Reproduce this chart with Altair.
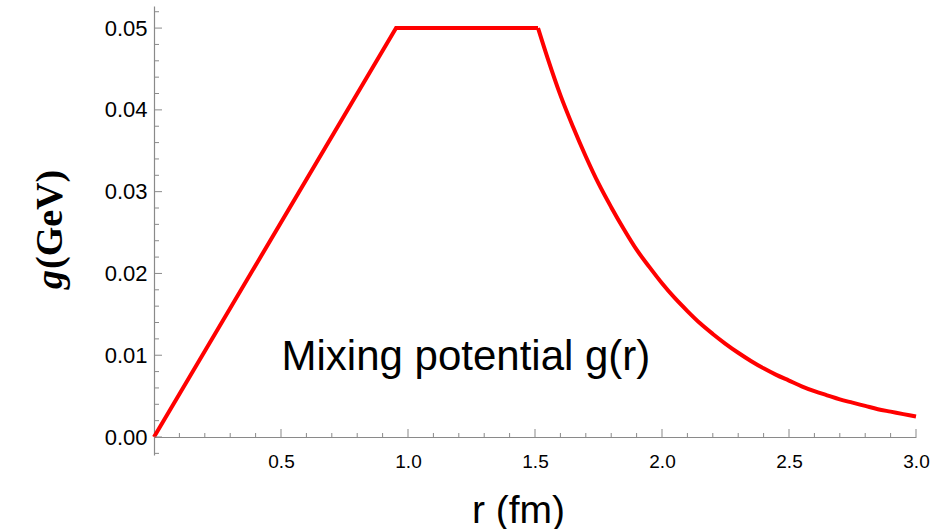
import altair as alt
import pandas as pd

# Mixing potential g(r): linear rise, plateau, then decaying tail
r_vals = [0.0, 0.953, 1.512, 1.55, 1.60, 1.65, 1.70, 1.75, 1.80, 1.85, 1.90, 1.95,
          2.00, 2.05, 2.10, 2.15, 2.20, 2.25, 2.30, 2.35, 2.40, 2.45, 2.50,
          2.55, 2.60, 2.65, 2.70, 2.75, 2.80, 2.85, 2.90, 2.95, 3.00]
g_vals = [0.0, 0.0500, 0.0500, 0.0463, 0.0418, 0.0379, 0.0343, 0.0310, 0.0281, 0.0254,
          0.0229, 0.0208, 0.0188, 0.0170, 0.0154, 0.0139, 0.0126, 0.0114, 0.0103,
          0.0093, 0.0084, 0.0076, 0.0069, 0.0062, 0.0056, 0.0051, 0.0046, 0.0042,
          0.0038, 0.0034, 0.0031, 0.0028, 0.0025]

# Axis tick positions
x_labels = [0.5, 1.0, 1.5, 2.0, 2.5, 3.0]
x_major = [0.5, 1.0, 1.5, 2.0, 2.5, 3.0]
x_minor = [0.1, 0.2, 0.3, 0.4, 0.6, 0.7, 0.8, 0.9, 1.1, 1.2, 1.3, 1.4,
           1.6, 1.7, 1.8, 1.9, 2.1, 2.2, 2.3, 2.4, 2.6, 2.7, 2.8, 2.9]
y_major = [0.00, 0.01, 0.02, 0.03, 0.04, 0.05]
y_minor = [-0.002, 0.002, 0.004, 0.006, 0.008, 0.012, 0.014, 0.016, 0.018,
           0.022, 0.024, 0.026, 0.028, 0.032, 0.034, 0.036, 0.038,
           0.042, 0.044, 0.046, 0.048, 0.052]

annotation = "Mixing potential g(r)"

W, H = 762, 449
AXIS_GRAY = "#8a8a8a"
SANS = "Liberation Sans, Arial, sans-serif"
NARROW = "Liberation Sans Narrow, Arial Narrow, Liberation Sans, sans-serif"
SERIF = "Liberation Serif, Times New Roman, serif"

xscale = alt.Scale(domain=[0, 3], nice=False, zero=False)
yscale = alt.Scale(domain=[-0.0022, 0.0527], nice=False, zero=False)

curve = pd.DataFrame({"r": r_vals, "g": g_vals})
# straight pieces (rise and plateau) and the smooth tail
straight = curve[curve["r"] <= 1.512]
tail = curve[curve["r"] >= 1.512]

x_enc = alt.X("r:Q", scale=xscale, axis=alt.Axis(
    values=x_labels, format=".1f", grid=False, ticks=False, tickSize=0,
    domainColor=AXIS_GRAY, domainWidth=1.2, offset=-18,
    labelFont=NARROW, labelFontSize=19, labelColor="black", labelPadding=15,
    labelFlush=False,
    title="r (fm)", titleFont=SANS, titleFontSize=39, titleFontWeight="normal",
    titleColor="black", titleX=364, titleY=85, titleBaseline="alphabetic",
    titleAlign="center"))
y_enc = alt.Y("g:Q", scale=yscale, axis=alt.Axis(
    values=y_major, format=".2f", grid=False, ticks=False, tickSize=0,
    domainColor=AXIS_GRAY, domainWidth=1.2,
    labelFont=SANS, labelFontSize=22, labelColor="black", labelPadding=7,
    labelFlush=False, title=""))

line_a = alt.Chart(straight).mark_line(
    color="#ff0000", strokeWidth=4, strokeJoin="miter"
).encode(x=x_enc, y=y_enc)
line_b = alt.Chart(tail).mark_line(
    color="#ff0000", strokeWidth=4, interpolate="monotone"
).encode(x=alt.X("r:Q", scale=xscale), y=alt.Y("g:Q", scale=yscale))

def x_ticks(vals, length):
    return alt.Chart(pd.DataFrame({"r": vals})).mark_tick(
        orient="vertical", size=length, thickness=1, color=AXIS_GRAY,
        yOffset=-length / 2, opacity=1,
    ).encode(x=alt.X("r:Q", scale=xscale), y=alt.YDatum(0))

def y_ticks(vals, length):
    return alt.Chart(pd.DataFrame({"g": vals})).mark_tick(
        orient="horizontal", size=length, thickness=1, color=AXIS_GRAY,
        xOffset=length / 2, opacity=1,
    ).encode(y=alt.Y("g:Q", scale=yscale), x=alt.XDatum(0))

label = alt.Chart(pd.DataFrame({"t": [annotation]})).mark_text(
    font=SANS, fontSize=42, color="black", align="center", baseline="alphabetic",
).encode(x=alt.XDatum(1.228), y=alt.YDatum(0.0082), text="t:N")

# Rotated y-axis title: italic bold "g" followed by bold "(GeV)"
title_g = alt.Chart(pd.DataFrame({"t": ["g"]})).mark_text(
    font=SERIF, fontSize=38, fontWeight="bold", fontStyle="italic", color="black",
    angle=270, align="left", baseline="alphabetic",
).encode(x=alt.value(-92), y=alt.value(283), text="t:N")

title_unit = alt.Chart(pd.DataFrame({"t": ["(GeV)"]})).mark_text(
    font=SERIF, fontSize=38, fontWeight="bold", color="black",
    angle=270, align="left", baseline="alphabetic",
).encode(x=alt.value(-92), y=alt.value(263), text="t:N")

chart = alt.layer(
    line_a, line_b,
    x_ticks(x_major, 8), x_ticks(x_minor, 4),
    y_ticks(y_major, 8), y_ticks(y_minor, 5),
    label, title_g, title_unit,
).properties(
    width=W, height=H,
    background="white",
    autosize=alt.AutoSizeParams(type="none"),
    padding={"left": 154, "top": 6, "right": 19, "bottom": 74},
).configure_view(stroke=None, strokeWidth=0)

chart.save("out.html", embed_options={"renderer": "svg", "actions": False})
